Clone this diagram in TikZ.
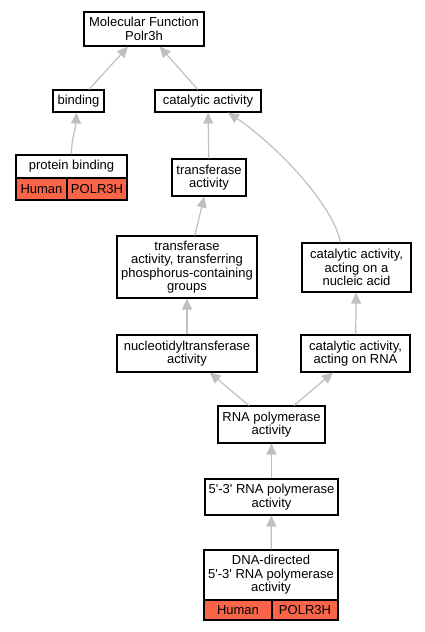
\documentclass[tikz,border=0pt]{standalone}
\usepackage{fontspec}
\setmainfont{Liberation Sans}
\usetikzlibrary{arrows.meta}
\definecolor{edgegray}{RGB}{192,192,192}
\definecolor{cellred}{RGB}{250,100,72}
\newcommand{\sq}{\textquotesingle}
\begin{document}
\begin{tikzpicture}[x=1pt,y=-1pt,
  box/.style={draw=black,line width=1.1pt,fill=white,inner sep=0pt,align=center,
    font=\fontsize{13}{13.4}\selectfont},
  cell/.style={box,fill=cellred},
  edge/.style={draw=edgegray,line width=1.2pt,-{Triangle[length=11pt,width=10pt]}}]
\useasboundingbox (0,0) rectangle (425,632);
\fill[white] (0,0) rectangle (425,632);
% nodes
\node[box,minimum width=120pt,minimum height=34pt] (mf) at (144,29) {Molecular Function\\Polr3h};
\node[box,minimum width=51pt,minimum height=22pt] (bind) at (78.5,101) {binding};
\node[box,minimum width=106pt,minimum height=22pt] (cat) at (208,101) {catalytic activity};
\node[box,minimum width=111pt,minimum height=23pt] (pb) at (71.5,166.5) {protein binding};
\node[cell,minimum width=51pt,minimum height=22pt] (pbh) at (41.5,189) {Human};
\node[cell,minimum width=60pt,minimum height=22pt] (pbg) at (97,189) {POLR3H};
\node[box,minimum width=74pt,minimum height=37pt] (tr) at (209,177.5) {transferase\\activity};
\node[box,minimum width=140pt,minimum height=62pt] (phos) at (187,267) {transferase\\activity, transferring\\phosphorus-containing\\groups};
\node[box,minimum width=109pt,minimum height=49pt] (nuc) at (356.5,267.5) {catalytic activity,\\acting on a\\nucleic acid};
\node[box,minimum width=140pt,minimum height=37pt] (ntr) at (187,353.5) {nucleotidyltransferase\\activity};
\node[box,minimum width=109pt,minimum height=37pt] (rna) at (355.5,353.5) {catalytic activity,\\acting on RNA};
\node[box,minimum width=107pt,minimum height=37pt] (pol) at (271.5,424.5) {RNA polymerase\\activity};
\node[box,minimum width=133pt,minimum height=36pt] (p53) at (271.5,497) {5\sq-3\sq{} RNA polymerase\\activity};
\node[box,minimum width=134pt,minimum height=50pt] (dna) at (271,575) {DNA-directed\\5\sq-3\sq{} RNA polymerase\\activity};
\node[cell,minimum width=68pt,minimum height=20pt] (dnah) at (238,610) {Human};
\node[cell,minimum width=66pt,minimum height=20pt] (dnag) at (305,610) {POLR3H};
% edges
\draw[edge] (bind) -- (mf);
\draw[edge] (cat) -- (mf);
\draw[edge] (pb.north) .. controls +(0,-18) and +(-1,18) .. ([xshift=-2pt]bind.south);
\draw[edge] (tr) -- (cat);
\draw[edge] ([xshift=-16pt]nuc.north) .. controls +(-8,-40) and +(45,30) .. ([xshift=20pt]cat.south);
\draw[edge] (phos) -- (tr);
\draw[edge] (ntr) -- (phos);
\draw[edge] (rna) -- (nuc);
\draw[edge] (pol) -- (ntr);
\draw[edge] (pol) -- (rna);
\draw[edge] (p53) -- (pol);
\draw[edge] (dna) -- (p53);
\end{tikzpicture}
\end{document}
